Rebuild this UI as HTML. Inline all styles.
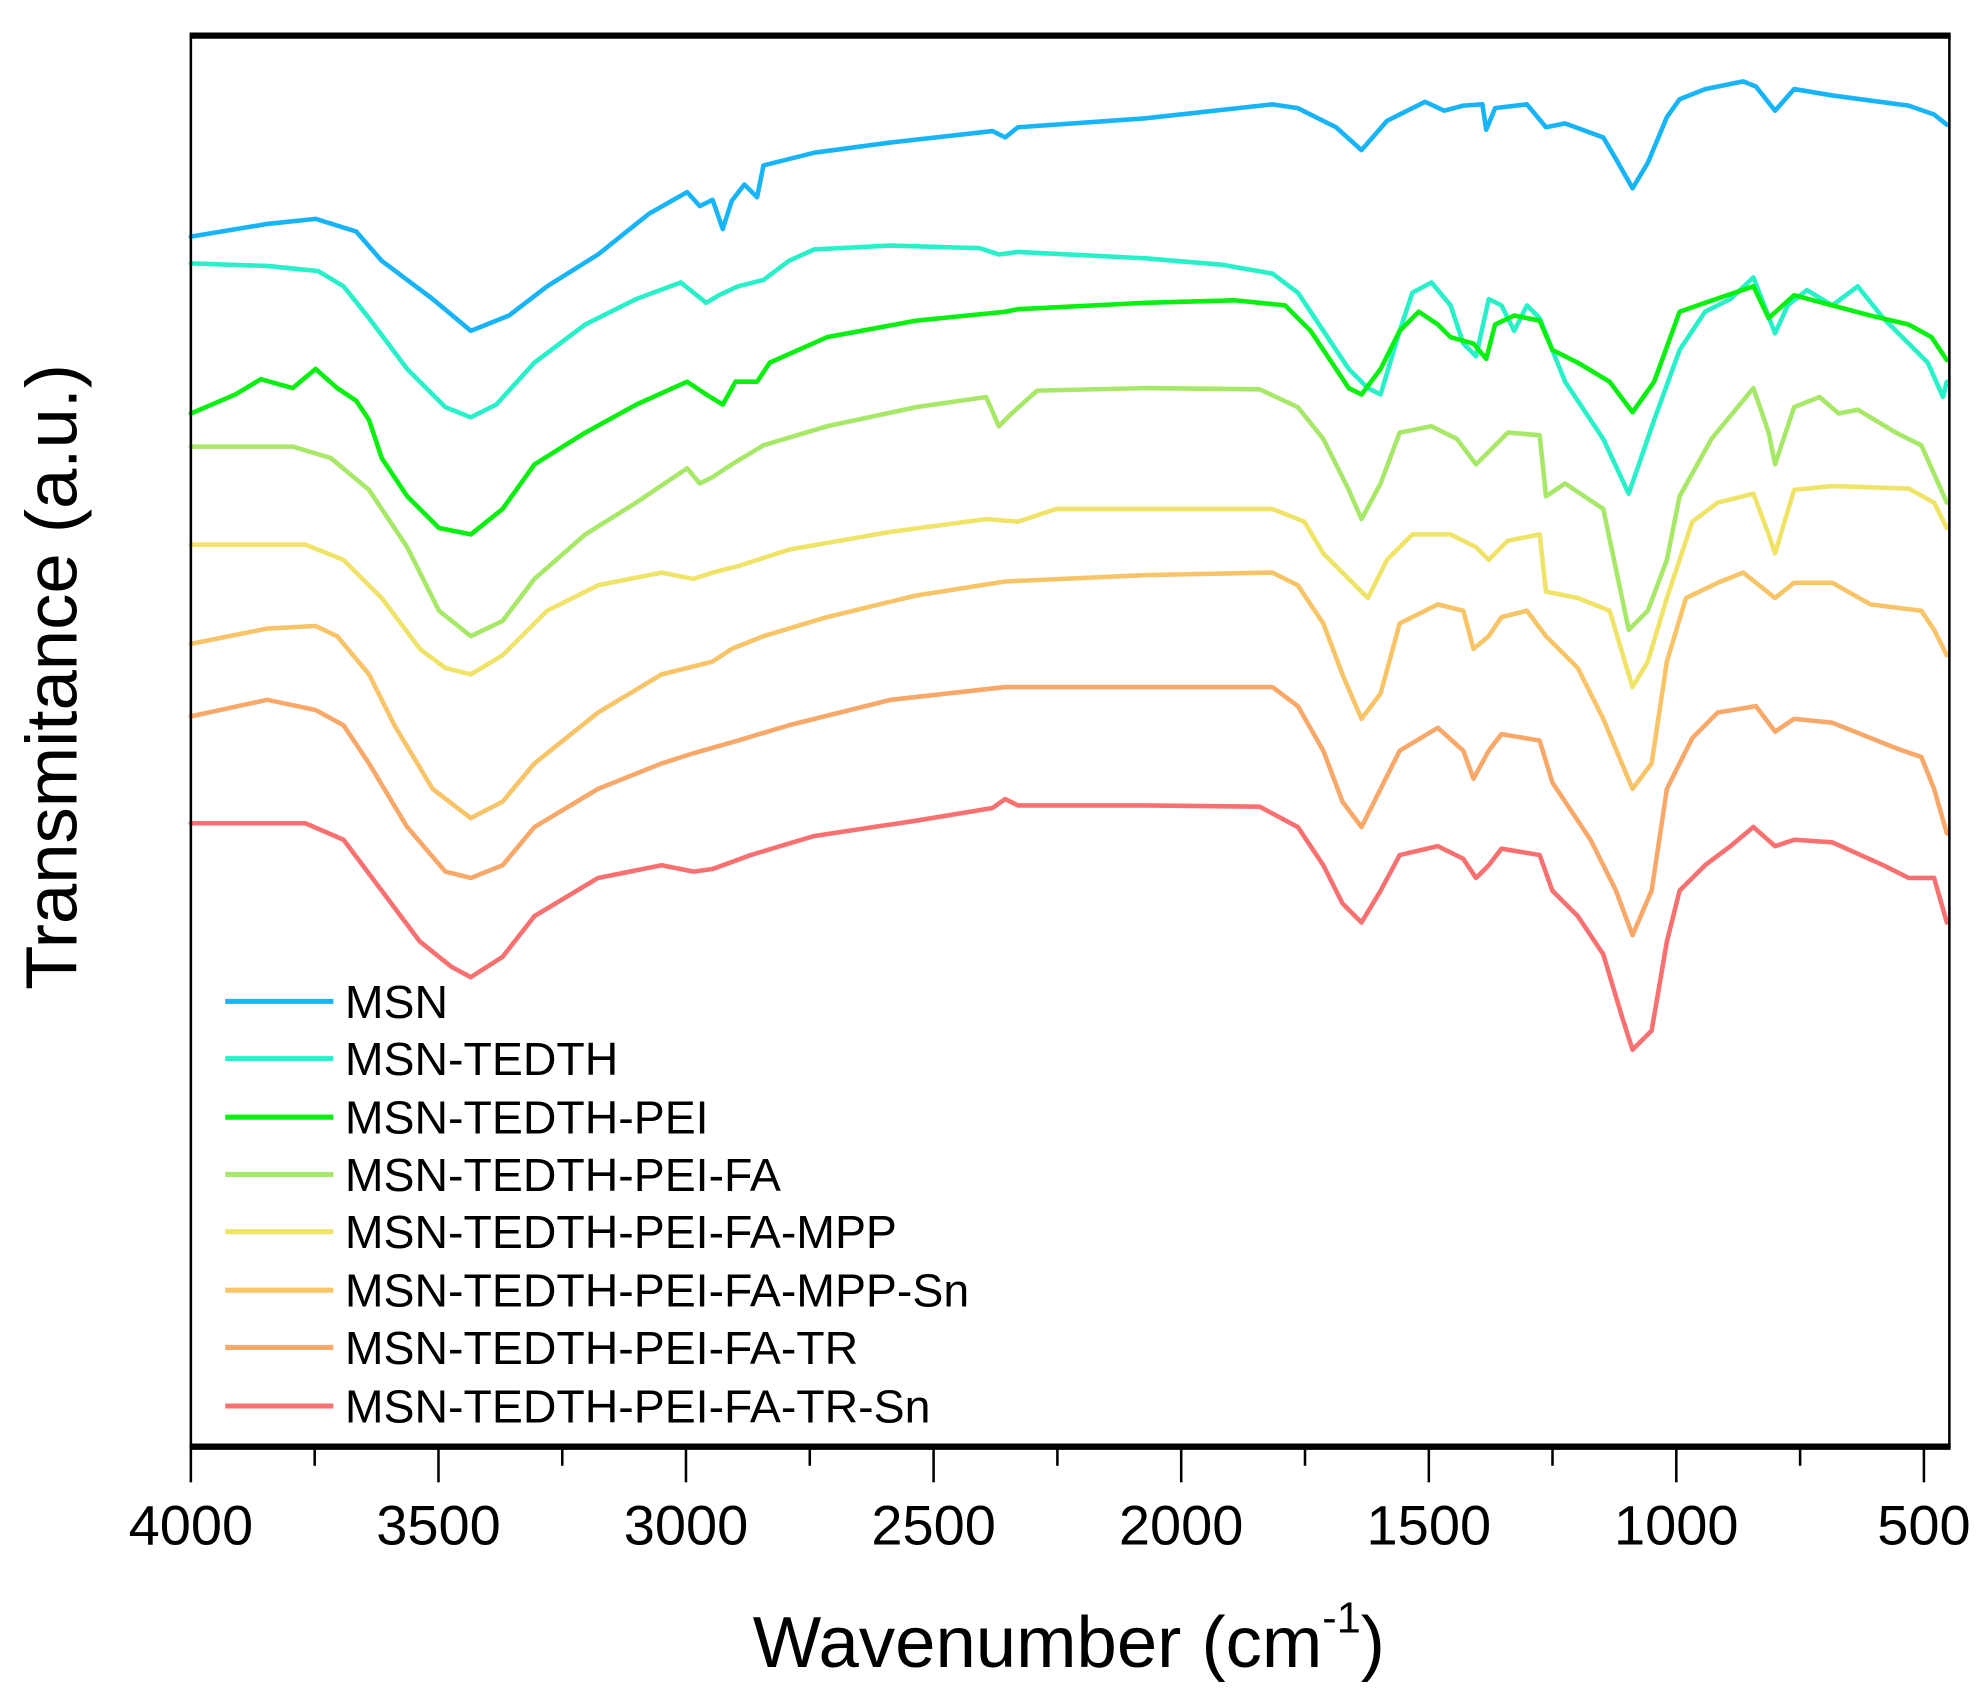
<!DOCTYPE html>
<html><head><meta charset="utf-8"><style>
html,body{margin:0;padding:0;background:#fff}
svg{display:block}
text{font-family:"Liberation Sans",Arial,sans-serif;fill:#000}
</style></head><body>
<svg width="1985" height="1691" viewBox="0 0 1560 1329" preserveAspectRatio="none" xmlns="http://www.w3.org/2000/svg">
<rect width="1560" height="1329" fill="#fff"/>
<g fill="none" stroke-width="3.6" stroke-linejoin="round" stroke-linecap="round">
<polyline stroke="#18b4f8" points="150,186 210,176 248,172 280,182 300,205 340,235 370,260 400,248 430,225 470,200 510,168 540,151 550,162 560,157 568,180 575,158 585,145 595,155 600,130 640,120 700,112 780,103 790,108 800,100 900,93 1000,82 1020,85 1030,90 1050,100 1070,118 1090,95 1120,80 1135,87 1150,83 1165,82 1168,102 1175,85 1200,82 1215,100 1230,97 1260,108 1270,125 1283,148 1295,128 1310,92 1320,78 1340,70 1370,64 1380,68 1395,87 1410,70 1440,75 1500,83 1520,90 1530,98"/>
<polyline stroke="#28f0c8" points="150,207 210,209 250,213 270,225 290,250 320,290 350,320 370,328 390,318 420,285 460,255 500,235 535,222 545,230 555,238 565,232 580,225 600,220 620,205 640,196 700,193 770,195 785,200 800,198 900,203 960,208 1000,215 1020,230 1040,260 1060,290 1075,305 1085,310 1100,260 1110,230 1125,222 1140,240 1150,270 1160,280 1170,235 1180,240 1190,260 1200,240 1210,250 1230,300 1260,345 1280,388 1300,330 1320,275 1340,245 1360,235 1378,218 1395,262 1405,240 1420,228 1440,240 1460,225 1480,250 1500,270 1515,285 1527,312 1530,300"/>
<polyline stroke="#08f010" points="150,325 185,310 205,298 230,305 248,290 265,305 280,315 290,330 300,360 320,390 345,415 370,420 395,400 420,365 460,340 500,318 540,300 555,310 568,318 578,300 595,300 605,285 650,265 720,252 790,245 800,243 900,238 970,236 1010,240 1030,260 1050,290 1060,305 1070,310 1085,290 1100,260 1115,245 1130,255 1140,265 1158,270 1168,282 1175,255 1190,248 1210,252 1220,275 1240,285 1265,300 1283,324 1300,300 1320,245 1340,238 1378,225 1390,250 1410,232 1440,240 1470,248 1500,255 1518,265 1530,283"/>
<polyline stroke="#a8e868" points="150,351 230,351 260,360 290,385 320,430 345,480 370,500 395,488 420,455 460,420 500,395 540,368 550,380 560,375 575,365 600,350 650,335 720,320 775,312 785,335 795,325 815,307 900,305 990,306 1020,320 1040,345 1060,385 1070,408 1085,380 1100,340 1125,335 1145,345 1160,365 1170,355 1185,340 1210,342 1215,390 1230,380 1260,400 1280,495 1295,480 1310,440 1320,390 1345,345 1378,305 1390,340 1395,365 1410,320 1430,312 1445,325 1460,322 1490,340 1510,350 1530,395"/>
<polyline stroke="#f0e468" points="150,428 240,428 270,440 300,470 330,510 350,525 370,530 395,515 430,480 470,460 520,450 545,455 560,450 580,445 620,432 700,418 775,408 800,410 830,400 900,400 1000,400 1025,410 1040,435 1060,455 1075,470 1090,440 1110,420 1140,420 1160,430 1170,440 1185,425 1210,420 1215,465 1240,470 1265,480 1283,540 1295,520 1310,470 1330,410 1350,395 1378,388 1390,420 1395,435 1410,385 1440,382 1500,384 1520,395 1530,415"/>
<polyline stroke="#f8c468" points="150,506 210,494 248,492 265,500 290,530 310,570 340,620 370,643 395,630 420,600 470,560 520,530 560,520 575,510 600,500 650,485 720,468 790,457 900,452 1000,450 1020,460 1040,490 1055,530 1070,565 1085,545 1100,490 1130,475 1150,480 1158,510 1170,500 1180,485 1200,480 1215,500 1240,525 1260,565 1283,620 1298,600 1310,520 1325,470 1350,458 1370,450 1395,470 1410,458 1440,458 1470,475 1510,480 1520,495 1530,515"/>
<polyline stroke="#f8a868" points="150,563 210,550 248,558 270,570 290,600 320,650 350,685 370,690 395,680 420,650 470,620 520,600 545,592 580,582 620,570 700,550 790,540 900,540 1000,540 1020,555 1040,590 1055,630 1070,650 1085,620 1100,590 1130,572 1150,590 1158,612 1170,590 1180,577 1210,582 1220,615 1250,660 1270,700 1283,735 1298,700 1310,620 1330,580 1350,560 1380,555 1395,575 1410,565 1440,568 1490,588 1510,595 1520,620 1530,655"/>
<polyline stroke="#f87070" points="150,647 240,647 270,660 300,700 330,740 355,760 370,768 395,752 420,720 470,690 520,680 545,685 560,683 590,672 640,657 720,645 780,635 790,628 800,633 900,633 990,634 1020,650 1040,680 1055,710 1070,725 1085,700 1100,672 1130,665 1150,675 1160,690 1170,680 1180,667 1210,672 1220,700 1240,720 1260,750 1275,800 1283,825 1298,810 1310,740 1320,700 1340,680 1360,665 1378,650 1395,665 1410,660 1440,662 1480,680 1500,690 1520,690 1530,725"/>
</g>
<rect x="150" y="28" width="1382" height="1109" fill="none" stroke="#000" stroke-width="2"/>
<line x1="149" y1="28" x2="1533" y2="28" stroke="#000" stroke-width="5"/>
<line x1="149" y1="1137" x2="1533" y2="1137" stroke="#000" stroke-width="5"/>
<g stroke="#000" stroke-width="2">
<line x1="150" y1="1137" x2="150" y2="1165"/><line x1="344.6" y1="1137" x2="344.6" y2="1165"/>
<line x1="539.1" y1="1137" x2="539.1" y2="1165"/><line x1="733.7" y1="1137" x2="733.7" y2="1165"/>
<line x1="928.3" y1="1137" x2="928.3" y2="1165"/><line x1="1122.9" y1="1137" x2="1122.9" y2="1165"/>
<line x1="1317.4" y1="1137" x2="1317.4" y2="1165"/><line x1="1512" y1="1137" x2="1512" y2="1165"/>
<line x1="247.3" y1="1137" x2="247.3" y2="1152"/><line x1="441.9" y1="1137" x2="441.9" y2="1152"/>
<line x1="636.4" y1="1137" x2="636.4" y2="1152"/><line x1="831" y1="1137" x2="831" y2="1152"/>
<line x1="1025.6" y1="1137" x2="1025.6" y2="1152"/><line x1="1220.1" y1="1137" x2="1220.1" y2="1152"/>
<line x1="1414.7" y1="1137" x2="1414.7" y2="1152"/>
</g>
<g font-size="44" text-anchor="middle">
<text x="150" y="1214">4000</text><text x="344.6" y="1214">3500</text><text x="539.1" y="1214">3000</text>
<text x="733.7" y="1214">2500</text><text x="928.3" y="1214">2000</text><text x="1122.9" y="1214">1500</text>
<text x="1317.4" y="1214">1000</text><text x="1512" y="1214">500</text>
</g>
<text x="840" y="1310" font-size="57" text-anchor="middle">Wavenumber (cm<tspan font-size="34" dy="-27">-1</tspan><tspan dy="27">)</tspan></text>
<text transform="translate(60,532) rotate(-90)" font-size="57" text-anchor="middle">Transmitance (a.u.)</text>
<g stroke-width="4">
<line x1="177" y1="787" x2="262" y2="787" stroke="#18b4f8"/>
<line x1="177" y1="832" x2="262" y2="832" stroke="#28f0c8"/>
<line x1="177" y1="878" x2="262" y2="878" stroke="#08f010"/>
<line x1="177" y1="923" x2="262" y2="923" stroke="#a8e868"/>
<line x1="177" y1="968" x2="262" y2="968" stroke="#f0e468"/>
<line x1="177" y1="1014" x2="262" y2="1014" stroke="#f8c468"/>
<line x1="177" y1="1059" x2="262" y2="1059" stroke="#f8a868"/>
<line x1="177" y1="1105" x2="262" y2="1105" stroke="#f87070"/>
</g>
<g font-size="36.5">
<text x="271" y="800">MSN</text>
<text x="271" y="845">MSN-TEDTH</text>
<text x="271" y="891">MSN-TEDTH-PEI</text>
<text x="271" y="936">MSN-TEDTH-PEI-FA</text>
<text x="271" y="981">MSN-TEDTH-PEI-FA-MPP</text>
<text x="271" y="1027">MSN-TEDTH-PEI-FA-MPP-Sn</text>
<text x="271" y="1072">MSN-TEDTH-PEI-FA-TR</text>
<text x="271" y="1118">MSN-TEDTH-PEI-FA-TR-Sn</text>
</g>
</svg>
</body></html>
